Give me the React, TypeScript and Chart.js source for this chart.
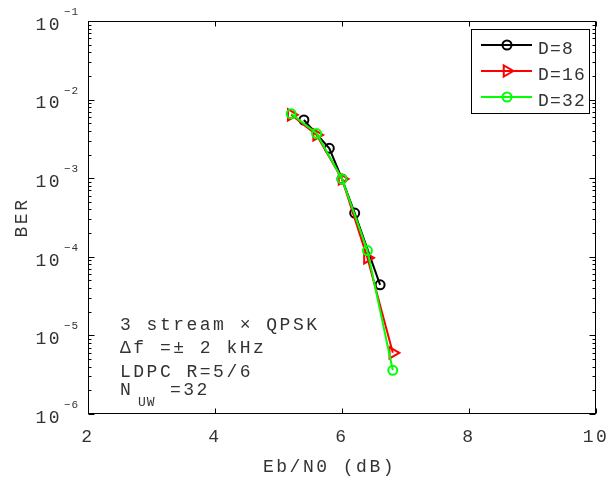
import React, { useEffect, useRef } from 'react';
import { Chart, registerables } from 'chart.js';

Chart.register(...registerables);

// ---- data ----
const seriesLabels = ['D=8', 'D=16', 'D=32'];
const ebnoD8 = [5.4, 5.8, 6.0, 6.2, 6.6];
const berD8 = [5.5e-3, 2.4e-3, 9.8e-4, 3.6e-4, 4.4e-5];
const ebnoD16 = [5.2, 5.6, 6.0, 6.4, 6.8];
const berD16 = [6.4e-3, 3.55e-3, 9.8e-4, 9.7e-5, 6.0e-6];
const ebnoD32 = [5.2, 5.6, 6.0, 6.4, 6.8];
const berD32 = [6.6e-3, 3.7e-3, 9.8e-4, 1.2e-4, 3.6e-6];
const xTicks = [2, 4, 6, 8, 10];
const yDecades = [-6, -5, -4, -3, -2, -1];
const xTitle = 'Eb/N0 (dB)';
const yTitle = 'BER';
const annotationLines = ['3 stream × QPSK', 'Δf =± 2 kHz', 'LDPC R=5/6'];
const annotationN = ['N', 'UW', '=32'];

const FONT = "'Liberation Mono', 'Courier New', monospace";
const TEXT = '#333';
const SPACING = '2.5px';

const toPts = (xs: number[], ys: number[]) => xs.map((x, i) => ({ x, y: ys[i] }));

function drawMarker(ctx: CanvasRenderingContext2D, style: string, x: number, y: number, r: number) {
  ctx.beginPath();
  if (style === 'triangle') {
    // pointing right, same geometry as Chart.js triangle rotated 90deg
    let rad = Math.PI / 2;
    for (let k = 0; k < 3; k++) {
      const px = x + Math.sin(rad) * r;
      const py = y - Math.cos(rad) * r;
      if (k === 0) ctx.moveTo(px, py); else ctx.lineTo(px, py);
      rad += (2 * Math.PI) / 3;
    }
    ctx.closePath();
  } else {
    ctx.arc(x, y, r, 0, Math.PI * 2);
  }
  ctx.stroke();
}

const spacingPlugin = {
  id: 'spacing',
  beforeDraw(chart: any) {
    chart.ctx.letterSpacing = SPACING;
  },
};

const decorPlugin = {
  id: 'decor',
  afterDraw(chart: any) {
    const { ctx, chartArea: a, scales } = chart;
    const xs = scales.x;
    const ys = scales.y;
    ctx.save();
    ctx.letterSpacing = '0px';
    ctx.strokeStyle = '#000';
    ctx.lineWidth = 1;
    const L = Math.round(a.left) + 0.5;
    const R = Math.round(a.right) - 0.5;
    const T = Math.round(a.top) + 0.5;
    const B = Math.round(a.bottom) - 0.5;
    ctx.strokeRect(L, T, R - L, B - T);
    // y ticks (log, major + minor)
    ctx.beginPath();
    for (const e of yDecades) {
      for (let m = 1; m <= 9; m++) {
        const v = m * Math.pow(10, e);
        if (v > 0.1 + 1e-12) continue;
        const py = Math.round(ys.getPixelForValue(v)) + 0.5;
        const len = m === 1 ? 6 : 3;
        ctx.moveTo(L, py); ctx.lineTo(L + len, py);
        ctx.moveTo(R, py); ctx.lineTo(R - len, py);
      }
    }
    // x ticks
    for (const t of xTicks) {
      const px = Math.round(xs.getPixelForValue(t)) + 0.5;
      ctx.moveTo(px, B); ctx.lineTo(px, B - 5);
      ctx.moveTo(px, T); ctx.lineTo(px, T + 5);
    }
    ctx.stroke();

    // superscripts of y tick labels
    ctx.fillStyle = TEXT;
    ctx.font = `11px ${FONT}`;
    ctx.letterSpacing = '1px';
    ctx.textAlign = 'left';
    ctx.textBaseline = 'middle';
    for (const e of yDecades) {
      const py = ys.getPixelForValue(Math.pow(10, e));
      ctx.fillText('−' + String(-e), a.left - 24, py - 9);
    }

    // x axis title
    ctx.font = `18px ${FONT}`;
    ctx.letterSpacing = SPACING;
    ctx.fillText(xTitle, 263, 467);

    // annotation
    const ay = [325, 348, 372];
    annotationLines.forEach((s, i) => ctx.fillText(s, 120, ay[i]));
    ctx.fillText(annotationN[0], 120, 390);
    ctx.fillText(annotationN[2], 170, 390);
    ctx.font = `13px ${FONT}`;
    ctx.letterSpacing = '1px';
    ctx.fillText(annotationN[1], 138, 403);

    // legend
    const bx = 471, by = 29, bw = 118, bh = 84;
    ctx.fillStyle = '#fff';
    ctx.fillRect(bx, by, bw, bh);
    ctx.strokeStyle = '#000';
    ctx.lineWidth = 1;
    ctx.strokeRect(bx + 0.5, by + 0.5, bw, bh);
    const rows = [45, 71, 97];
    chart.data.datasets.forEach((ds: any, i: number) => {
      const ry = rows[i];
      ctx.strokeStyle = ds.borderColor;
      ctx.lineWidth = 2;
      ctx.beginPath();
      ctx.moveTo(481, ry);
      ctx.lineTo(532, ry);
      ctx.stroke();
      drawMarker(ctx, ds.pointStyle, 507, ry, ds.pointRadius);
      ctx.fillStyle = TEXT;
      ctx.font = `18px ${FONT}`;
      ctx.letterSpacing = '1.2px';
      ctx.textAlign = 'left';
      ctx.textBaseline = 'middle';
      ctx.fillText(ds.label, 538, ry + 4);
    });
    ctx.restore();
  },
};

export default function App() {
  const ref = useRef<HTMLCanvasElement | null>(null);
  useEffect(() => {
    if (!ref.current) return;
    const mk = (label: string, xs: number[], ys: number[], color: string, style: string, order: number) => ({
      label,
      data: toPts(xs, ys),
      borderColor: color,
      backgroundColor: color,
      borderWidth: 2,
      pointStyle: style,
      pointRotation: style === 'triangle' ? 90 : 0,
      pointRadius: style === 'triangle' ? 6.5 : 4.5,
      pointBorderWidth: 2,
      pointBorderColor: color,
      pointBackgroundColor: 'rgba(0,0,0,0)',
      showLine: true,
      tension: 0,
      fill: false,
      order,
    });
    const chart = new Chart(ref.current, {
      type: 'scatter',
      data: {
        datasets: [
          mk(seriesLabels[0], ebnoD8, berD8, '#000000', 'circle', 3),
          mk(seriesLabels[1], ebnoD16, berD16, '#ff0000', 'triangle', 2),
          mk(seriesLabels[2], ebnoD32, berD32, '#00ff00', 'circle', 1),
        ],
      },
      options: {
        responsive: false,
        animation: false,
        devicePixelRatio: 1,
        layout: { padding: { left: 0, right: 20, top: 21, bottom: 0 } },
        plugins: { legend: { display: false }, tooltip: { enabled: false } },
        scales: {
          x: {
            type: 'linear',
            position: 'bottom',
            min: 2,
            max: 10,
            grid: { display: false, drawTicks: false },
            border: { display: false },
            ticks: {
              font: { family: FONT, size: 18 },
              color: TEXT,
              padding: 12,
              autoSkip: false,
              maxRotation: 0,
              callback: (v: any) => String(v),
            },
            title: { display: false, text: xTitle },
            afterBuildTicks: (s: any) => {
              s.ticks = xTicks.map((v) => ({ value: v }));
            },
            afterFit: (s: any) => {
              s.height = 66;
              s.paddingLeft = 0;
              s.paddingRight = 0;
            },
          },
          y: {
            type: 'logarithmic',
            position: 'left',
            min: 1e-6,
            max: 1e-1,
            grid: { display: false, drawTicks: false },
            border: { display: false },
            ticks: {
              font: { family: FONT, size: 18 },
              color: TEXT,
              padding: 26,
              labelOffset: 4,
              autoSkip: false,
              callback: () => '10',
            },
            title: {
              display: true,
              text: yTitle,
              font: { family: FONT, size: 18 },
              color: TEXT,
              padding: { top: 11, bottom: 0 },
            },
            afterBuildTicks: (s: any) => {
              s.ticks = yDecades.map((e) => ({ value: Math.pow(10, e) }));
            },
            afterFit: (s: any) => {
              s.width = 88;
              s.paddingTop = 0;
              s.paddingBottom = 0;
            },
          },
        },
      } as any,
      plugins: [spacingPlugin, decorPlugin],
    });
    return () => chart.destroy();
  }, []);
  return (
    <div style={{ position: 'fixed', left: 0, top: 0, width: 616, height: 480, background: '#fff' }}>
      <canvas ref={ref} width={616} height={480} style={{ display: 'block', width: 616, height: 480 }} />
    </div>
  );
}
